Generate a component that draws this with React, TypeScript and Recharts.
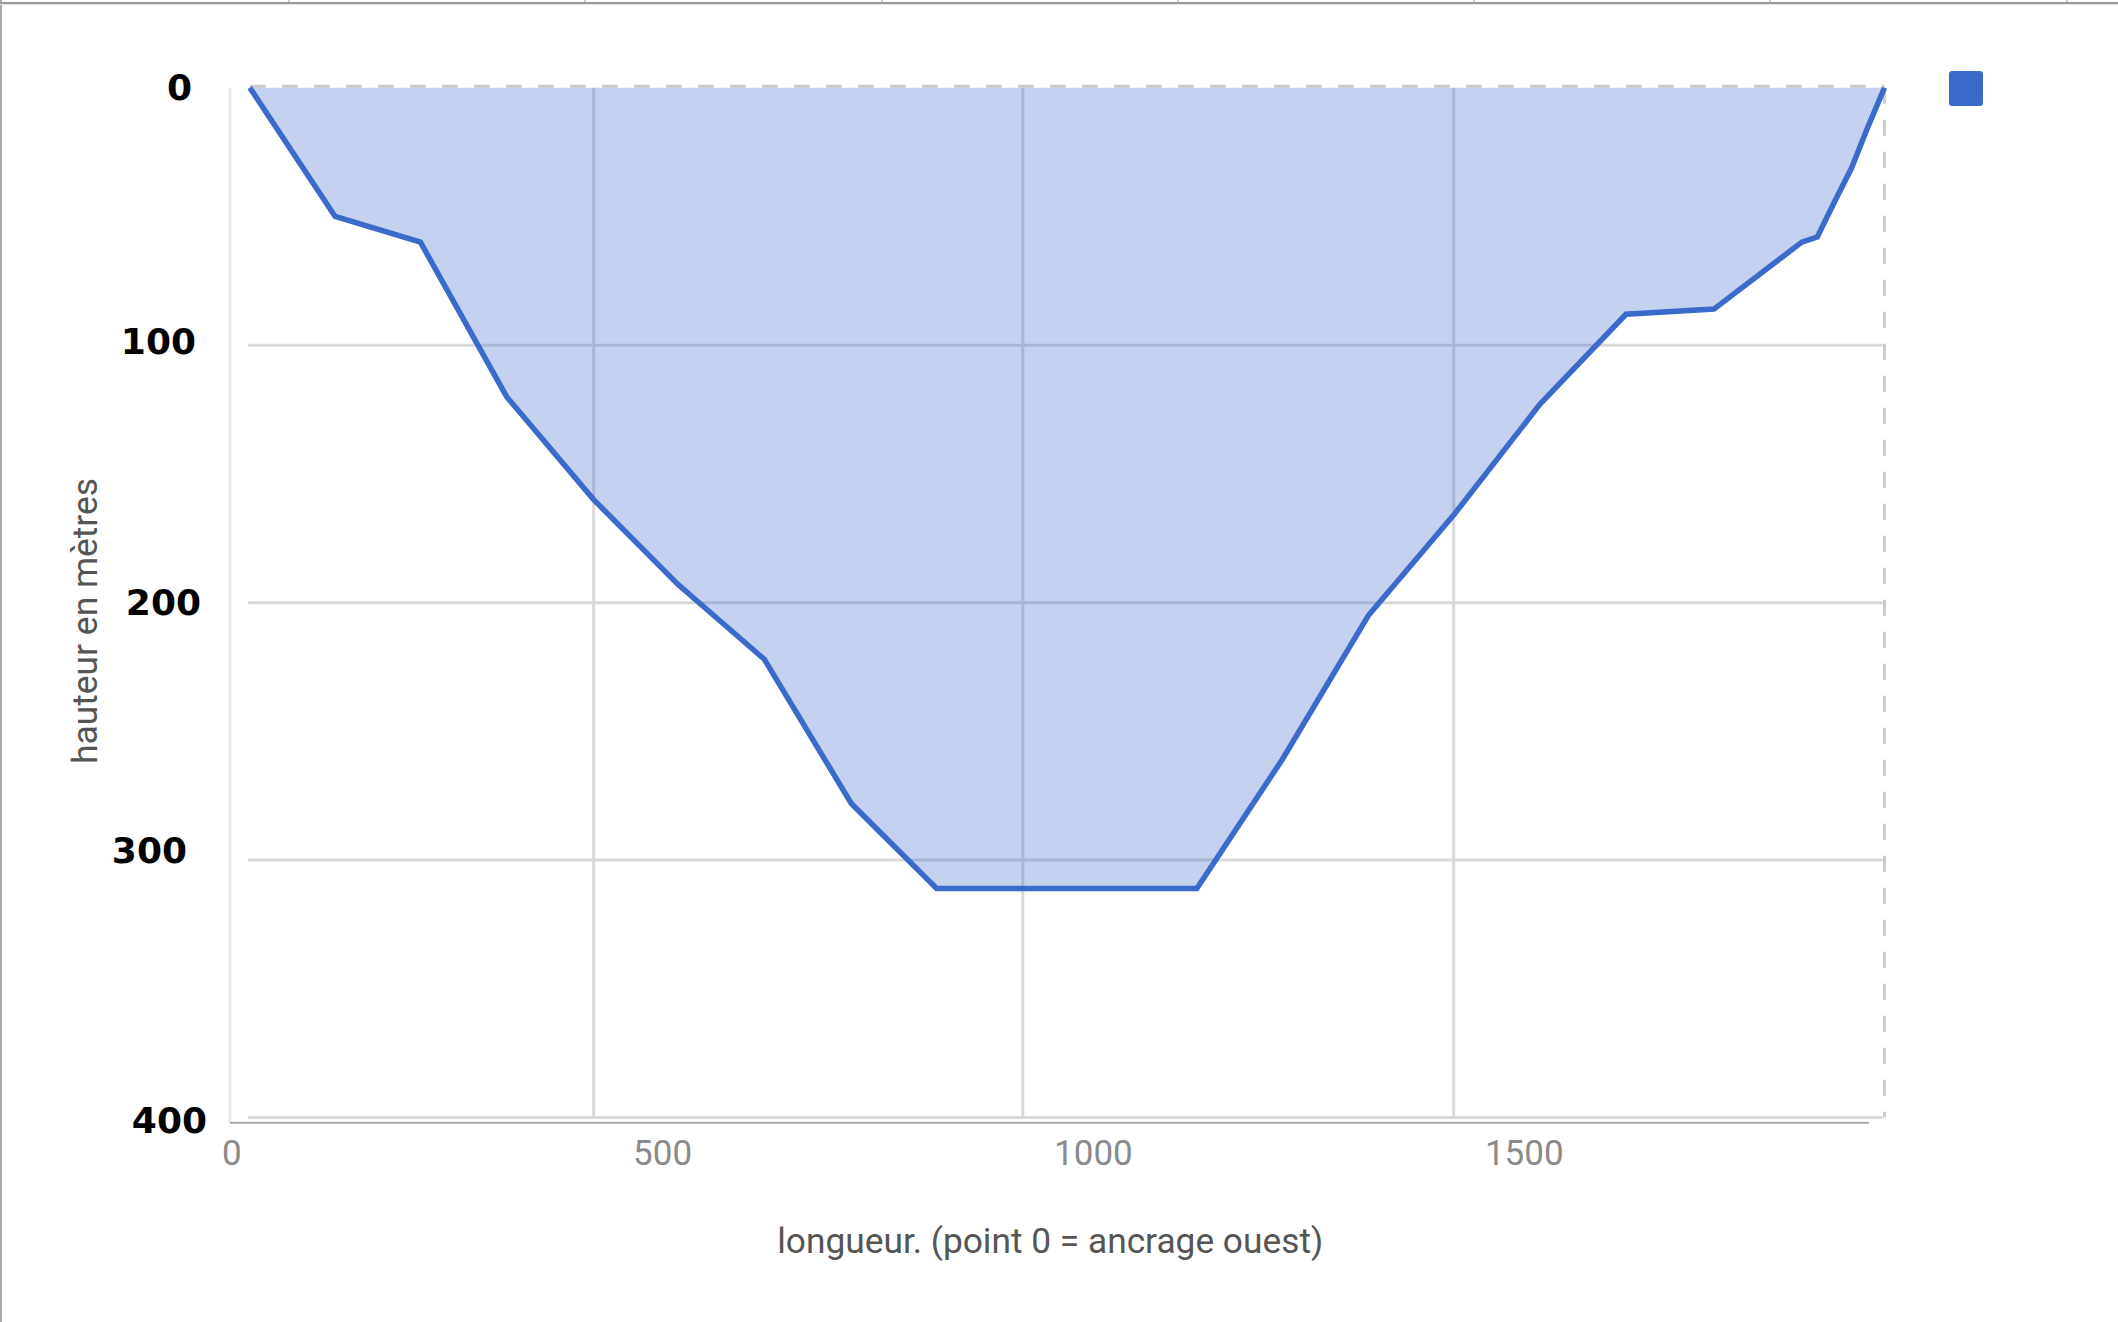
import {
  Area,
  ComposedChart,
  Legend,
  ReferenceLine,
  XAxis,
  YAxis,
} from "recharts";

const longueur = [21, 120, 219, 319, 420, 518, 618, 719, 818, 1120, 1219, 1319, 1418, 1518, 1618, 1720, 1822, 1840, 1859, 1880, 1899, 1918];
const hauteur = [0, 50, 60, 120, 160, 193, 222, 278, 311, 311, 261, 205, 166, 123, 88, 86, 60, 58, 45, 31, 15, 0];
const xTicks = [0, 500, 1000, 1500];
const yTicks = [0, 100, 200, 300, 400];
const verticalGrid = [420, 918, 1418];
const horizontalGrid = [100, 200, 300, 400];

const chartData = longueur.map((x, i) => ({ x, y: hauteur[i] }));

const BLUE = "#3a6bcb";
const GRID = "#d9d9d9";
const UNDER_AREA = -50;

// the y labels in the source sit unevenly, so each one gets its own nudge
const yLabelNudge: Record<number, { dx: number; dy: number }> = {
  0: { dx: -38, dy: 0 },
  100: { dx: -34, dy: -4 },
  200: { dx: -29, dy: 0 },
  300: { dx: -43, dy: -10 },
  400: { dx: -23, dy: 3 },
};

function YTick({ y, payload }: any) {
  const nudge = yLabelNudge[payload.value] ?? { dx: 0, dy: 0 };
  return (
    <text
      x={230 + nudge.dx}
      y={y + nudge.dy}
      textAnchor="end"
      dominantBaseline="central"
      fontFamily="DejaVu Sans"
      fontWeight={700}
      fontSize={36}
      fill="#000"
    >
      {payload.value}
    </text>
  );
}

function XTick({ x, payload }: any) {
  return (
    <text
      x={x}
      y={1153}
      textAnchor="middle"
      dominantBaseline="central"
      fontFamily="Roboto"
      fontSize={35}
      fill="#8a8a8a"
    >
      {payload.value}
    </text>
  );
}

function XTitle({ viewBox }: any) {
  return (
    <text
      x={viewBox.x + viewBox.width / 2 - 7}
      y={1241}
      textAnchor="middle"
      dominantBaseline="central"
      fontFamily="Roboto"
      fontSize={35.3}
      fill="#555"
    >
      longueur. (point 0 = ancrage ouest)
    </text>
  );
}

function YTitle() {
  const cy = 621;
  return (
    <text
      x={85}
      y={cy}
      transform={`rotate(-90 85 ${cy})`}
      textAnchor="middle"
      dominantBaseline="central"
      fontFamily="Roboto"
      fontSize={35.4}
      fill="#555"
    >
      hauteur en mètres
    </text>
  );
}

function LegendSwatch() {
  return (
    <div
      style={{
        width: 34,
        height: 35,
        borderRadius: 3,
        background: BLUE,
      }}
    />
  );
}

export default function App() {
  return (
    <div
      style={{
        position: "absolute",
        left: 0,
        top: 0,
        width: 2118,
        height: 1322,
        background: "#fff",
        overflow: "hidden",
      }}
    >
      {/* sheet frame left around the screenshot */}
      <div style={{ position: "absolute", left: 0, top: 0, width: 2, height: 1322, background: "#aaa" }} />
      <div style={{ position: "absolute", left: 0, top: 2, width: 2118, height: 2, background: "#999" }} />
      <div style={{ position: "absolute", left: 0, top: 4, width: 2118, height: 1, background: "#e4e4e4" }} />
      <div
        style={{
          position: "absolute",
          left: 288,
          top: 0,
          width: 1830,
          height: 2,
          background: "repeating-linear-gradient(90deg, #ccc 0 2px, transparent 2px 296.3px)",
        }}
      />
      <ComposedChart
        width={2118}
        height={1322}
        data={chartData}
        margin={{ top: 87.7, right: 233.5, bottom: 0, left: 0 }}
        style={{ position: "absolute", left: 0, top: 0 }}
      >
        <XAxis
          type="number"
          dataKey="x"
          domain={[-2, 1918]}
          ticks={xTicks}
          interval={0}
          height={164.3}
          axisLine={false}
          tickLine={false}
          tick={<XTick />}
          label={<XTitle />}
        />
        <YAxis
          type="number"
          reversed
          domain={[0, 402]}
          ticks={yTicks}
          interval={0}
          width={230}
          axisLine={false}
          tickLine={false}
          tick={<YTick />}
          label={<YTitle />}
        />
        {verticalGrid.map((v) => (
          <ReferenceLine
            key={`v-${v}`}
            segment={[{ x: v, y: 0 }, { x: v, y: 400 }]}
            stroke={GRID}
            strokeWidth={3}
            zIndex={UNDER_AREA}
          />
        ))}
        {horizontalGrid.map((v) => (
          <ReferenceLine
            key={`h-${v}`}
            segment={[{ x: 19, y: v }, { x: 1916, y: v }]}
            stroke={GRID}
            strokeWidth={3}
            zIndex={UNDER_AREA}
          />
        ))}
        <ReferenceLine x={-2} stroke="#e8e8e8" strokeWidth={3} zIndex={UNDER_AREA} />
        <ReferenceLine
          segment={[{ x: -2, y: 402 }, { x: 1900, y: 402 }]}
          stroke="#aaa"
          strokeWidth={2}
          zIndex={UNDER_AREA}
        />
        <ReferenceLine
          segment={[{ x: 21, y: -0.6 }, { x: 1918, y: -0.6 }]}
          ifOverflow="visible"
          stroke="#ccc"
          strokeWidth={3}
          strokeDasharray="16 16"
          zIndex={UNDER_AREA}
        />
        <ReferenceLine
          segment={[{ x: 1918, y: 0 }, { x: 1918, y: 400 }]}
          stroke="#ccc"
          strokeWidth={3}
          strokeDasharray="16 16"
          zIndex={UNDER_AREA}
        />
        <Area
          type="linear"
          dataKey="y"
          baseValue={0}
          stroke={BLUE}
          strokeWidth={5.5}
          fill={BLUE}
          fillOpacity={0.3}
          dot={false}
          activeDot={false}
          isAnimationActive={false}
        />
        <Legend
          content={<LegendSwatch />}
          wrapperStyle={{ position: "absolute", left: 1949, top: 71, width: 34, height: 35 }}
        />
      </ComposedChart>
    </div>
  );
}
